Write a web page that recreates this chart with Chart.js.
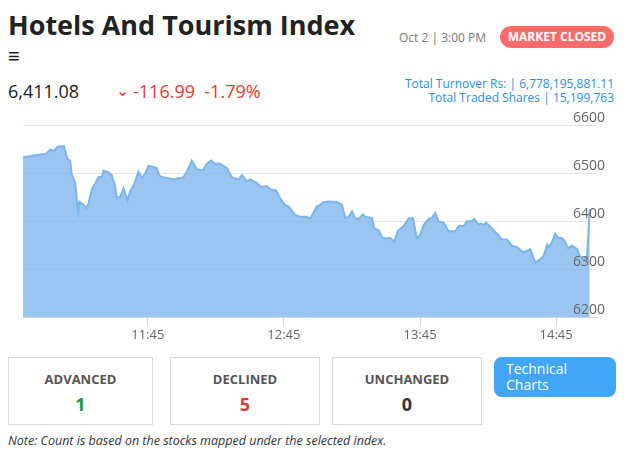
<!DOCTYPE html>
<html><head><meta charset="utf-8">
<script src="https://cdn.jsdelivr.net/npm/chart.js@4/dist/chart.umd.min.js"></script>
<style>
body{margin:0;width:630px;height:450px;position:relative;font-family:"Open Sans",sans-serif;background:#fff;overflow:hidden}
.a{position:absolute;white-space:nowrap}
.box{position:absolute;top:357px;height:68px;border:1px solid #d8d8d8;box-sizing:border-box;text-align:center}
.box .l{margin-top:12px;font-size:13px;font-weight:700;color:#555}
.box .n{margin-top:4px;font-size:18px;font-weight:700}
</style></head><body>
<div class="a" style="left:8px;top:6px;font-size:27px;font-weight:700;color:#222">Hotels And Tourism Index</div>
<div class="a" style="left:8px;top:42px;font-size:20px;color:#222">&#8801;</div>
<div class="a" style="left:399px;top:29px;font-size:12px;color:#777">Oct 2 | 3:00 PM</div>
<div class="a" style="left:500px;top:26px;width:114px;height:22px;line-height:22px;border-radius:11px;background:#ff6b6b;color:#fff;font-size:12px;font-weight:700;text-align:center">MARKET CLOSED</div>
<div class="a" style="left:8px;top:79px;font-size:18px;color:#222">6,411.08</div>
<div class="a" style="left:116px;top:79px;font-size:16px;color:#e53935">&#8964;</div>
<div class="a" style="left:133px;top:79px;font-size:18px;color:#e53935">-116.99 &nbsp;-1.79%</div>
<div class="a" style="right:16px;top:77px;font-size:12px;color:#2a8fd6;text-align:right;line-height:14px">Total Turnover Rs: | 6,778,195,881.11<br>Total Traded Shares | 15,199,763</div>
<div class="a" style="left:0;top:100px;width:630px;height:245px"><canvas id="c"></canvas></div>
<div class="box" style="left:8px;width:145px"><div class="l">ADVANCED</div><div class="n" style="color:#1a9a3a">1</div></div>
<div class="box" style="left:170px;width:150px"><div class="l">DECLINED</div><div class="n" style="color:#e53935">5</div></div>
<div class="box" style="left:332px;width:150px"><div class="l">UNCHANGED</div><div class="n" style="color:#333">0</div></div>
<div class="a" style="left:494px;top:357px;width:122px;height:40px;border-radius:8px;background:#42a5f5;color:#fff;font-size:14px;line-height:16px;padding:4px 12px;box-sizing:border-box;white-space:normal">Technical Charts</div>
<div class="a" style="left:8px;top:432px;font-size:12.5px;font-style:italic;color:#333">Note: Count is based on the stocks mapped under the selected index.</div>
<script>
const minutes=[0,10.5,12,13.7,15.2,18,19.6,20.8,21.5,23,23.7,24.4,24.9,26.6,27.8,28.8,30.3,31.8,33.3,34.7,35.5,37.7,39.1,40.6,41.3,42.8,44.3,46,47.2,49,50.9,52.4,53.8,55.3,57.5,59,60.2,62,66.3,67.8,70.7,72.2,74.4,76.6,79.3,81,83,84.7,86.6,89.9,92.1,95,96.5,98.7,100.1,103,104.8,107.5,109,111.6,113.4,115.6,117,120,122.2,125,126.6,128,129.5,131,132.5,135.4,138.4,140.6,142,143.5,145,146.4,147.9,149.8,150.9,153.8,154.8,156.7,158.6,161.9,163.6,165.1,167.8,170,171.9,173.6,175.1,176.6,178.8,180.3,181.7,183.2,185.4,187.6,190.5,192,194.2,195.7,197.9,198.9,200.8,201.9,203,204.2,206,208.9,211.1,213.3,215.5,217.7,220.7,223.6,225.8,228,229.5,231,231.7,233.2,234.6,236.1,237.6,239,240.1,242,244.2,245.4,246.8,248.6,249.8];
const values=[6533,6541,6549,6546,6555,6556,6529,6526,6496,6480,6445,6420,6440,6434,6427,6436,6466,6478,6492,6492,6505,6501,6496,6473,6450,6450,6468,6443,6462,6477,6503,6490,6499,6515,6513,6510,6494,6491,6487,6489,6491,6503,6526,6508,6506,6519,6526,6519,6520,6510,6491,6487,6496,6483,6487,6480,6471,6473,6466,6464,6447,6433,6431,6413,6409,6409,6406,6417,6431,6434,6440,6441,6440,6434,6407,6409,6420,6407,6404,6414,6409,6407,6385,6381,6364,6365,6357,6379,6390,6406,6406,6364,6372,6392,6405,6407,6417,6399,6397,6379,6379,6390,6390,6400,6400,6405,6393,6395,6392,6397,6388,6374,6362,6362,6349,6346,6335,6342,6314,6321,6328,6351,6346,6357,6374,6365,6365,6357,6344,6349,6342,6328,6321,6325,6425];
const tickMinutes=[55,115,175,235];
const tickLabels=['11:45','12:45','13:45','14:45'];
const yTicks=[6200,6300,6400,6500,6600];
const pts=minutes.map((m,i)=>({x:m,y:values[i]}));
const yLabels={id:'yl',afterDraw(c){const s=c.scales.y,ctx=c.ctx;ctx.save();ctx.font='14px "Open Sans"';ctx.fillStyle='#666';ctx.textAlign='right';ctx.textBaseline='bottom';yTicks.forEach(v=>ctx.fillText(String(v),605,s.getPixelForValue(v)-0));ctx.restore();}};
new Chart(document.getElementById('c'),{type:'line',data:{datasets:[{data:pts,borderColor:'#7cb5ec',backgroundColor:'rgba(124,181,236,0.78)',borderWidth:2,fill:'start',pointRadius:0,tension:0}]},
options:{responsive:true,maintainAspectRatio:false,animation:false,layout:{padding:{left:23,right:33,top:25,bottom:0}},
plugins:{legend:{display:false},tooltip:{enabled:false}},
scales:{x:{type:'linear',min:0,max:253,afterBuildTicks:a=>{a.ticks=tickMinutes.map(v=>({value:v}));},
ticks:{color:'#666',font:{size:13,family:'Open Sans'},padding:2,callback:v=>tickLabels[tickMinutes.indexOf(v)]},
grid:{drawOnChartArea:false,color:'#ccd6eb',tickLength:8},border:{color:'#ccd6eb'}},
y:{position:'right',min:6200,max:6600,afterBuildTicks:a=>{a.ticks=yTicks.map(v=>({value:v}));},ticks:{display:false},grid:{color:'#e6e6e6',drawTicks:false},border:{display:false}}}},
plugins:[yLabels]});
</script></body></html>
